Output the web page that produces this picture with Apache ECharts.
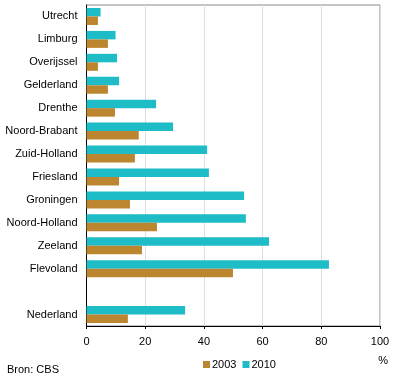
<!DOCTYPE html>
<html><head><meta charset="utf-8">
<script src="https://cdn.jsdelivr.net/npm/echarts@6/dist/echarts.min.js"></script>
<style>html,body{margin:0;padding:0;background:#fff}#c{width:396px;height:385px}</style>
</head><body><div id="c"></div>
<script>
var categories = ['Utrecht','Limburg','Overijssel','Gelderland','Drenthe','Noord-Brabant','Zuid-Holland','Friesland','Groningen','Noord-Holland','Zeeland','Flevoland','','Nederland'];
var values2003 = [3.9,7.3,3.9,7.3,9.7,17.8,16.5,11.1,14.8,24.0,18.9,49.9,null,14.1];
var values2010 = [4.8,9.9,10.4,11.1,23.7,29.5,41.1,41.7,53.7,54.3,62.2,82.6,null,33.6];
var xTicks = [0,20,40,60,80,100];
var font = 'Arial, "Liberation Sans", sans-serif';
var chart = echarts.init(document.getElementById('c'));
chart.setOption({
  animation:false,
  grid:{left:86.5,right:16,top:5,bottom:59,show:true,borderColor:'#888',borderWidth:1,containLabel:false},
  legend:{data:['2003','2010'],left:198,top:354,itemWidth:7,itemHeight:7,itemGap:6,icon:'rect',
    textStyle:{fontFamily:font,fontSize:11,color:'#000',padding:[0,0,0,-3]}},
  xAxis:{type:'value',min:xTicks[0],max:xTicks[xTicks.length-1],interval:20,
    axisLine:{show:true,lineStyle:{color:'#000',width:1}},
    axisTick:{show:true,length:3,lineStyle:{color:'#000'}},
    axisLabel:{fontFamily:font,fontSize:11,color:'#000',margin:10}},
  yAxis:{type:'category',data:categories,inverse:true,
    axisLine:{show:true,lineStyle:{color:'#000',width:1}},
    axisTick:{show:false},
    axisLabel:{fontFamily:font,fontSize:11,color:'#000',margin:9}},
  graphic:[
    {type:'text',right:8,top:355,style:{text:'%',font:'11px '+font,fill:'#000'}},
    {type:'text',left:7,top:364,style:{text:'Bron: CBS',font:'11px '+font,fill:'#000'}}
  ],
  series:[
    {name:'2010',type:'bar',data:values2010,itemStyle:{color:'#1ebcc6'},barGap:'0%',barCategoryGap:'26%'},
    {name:'2003',type:'bar',data:values2003,itemStyle:{color:'#bc8631'},barGap:'0%',barCategoryGap:'26%'}
  ]
});
</script></body></html>
